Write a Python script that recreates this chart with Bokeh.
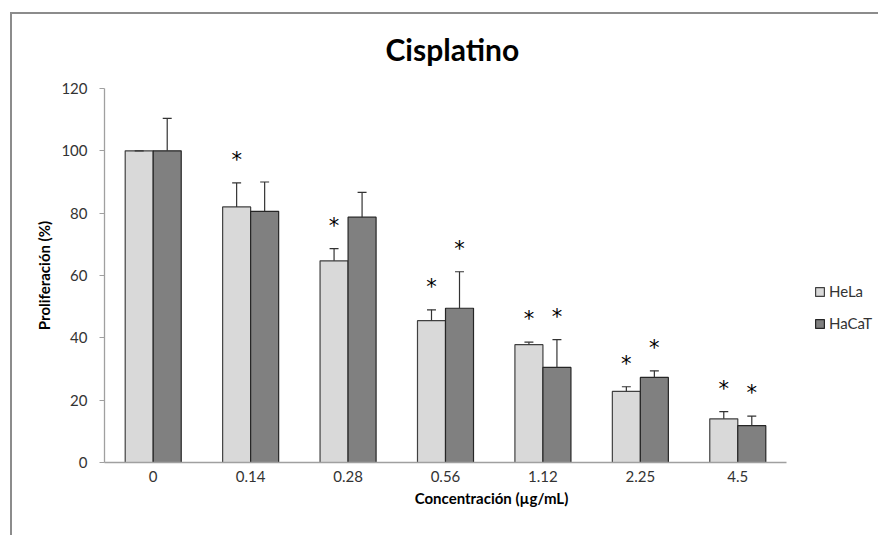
from bokeh.plotting import figure
from bokeh.models import ColumnDataSource, Range1d, Legend, LegendItem, FixedTicker
from bokeh.core.properties import value
from bokeh.embed import file_html
from bokeh.resources import INLINE

concentrations = ["0", "0.14", "0.28", "0.56", "1.12", "2.25", "4.5"]
hela_mean = [100, 82.0, 64.7, 45.5, 37.8, 22.8, 14.0]
hela_err = [0.0, 7.7, 3.9, 3.5, 0.8, 1.5, 2.3]
hacat_mean = [100, 80.6, 78.7, 49.5, 30.5, 27.3, 11.8]
hacat_err = [10.4, 9.4, 8.0, 11.7, 8.9, 2.1, 3.1]
hela_sig = ["", "*", "*", "*", "*", "*", "*"]
hacat_sig = ["", "", "", "*", "*", "*", "*"]
y_ticks = [0, 20, 40, 60, 80, 100, 120]

FONT = "Lato"
BW = 0.2875
OFF = BW / 2
CAP = 0.046
N = len(concentrations)

centers = [i + 0.5 for i in range(N)]
src = ColumnDataSource(dict(
    xc=centers,
    x_hela=[c - OFF for c in centers], x_hacat=[c + OFF for c in centers],
    hela=hela_mean, hela_top=[m + e for m, e in zip(hela_mean, hela_err)], hela_sig=hela_sig,
    hacat=hacat_mean, hacat_top=[m + e for m, e in zip(hacat_mean, hacat_err)], hacat_sig=hacat_sig,
))
for key in ("hela", "hacat"):
    src.data["x_%s_l" % key] = [x - CAP for x in src.data["x_" + key]]
    src.data["x_%s_r" % key] = [x + CAP for x in src.data["x_" + key]]

W, H = 882, 535
LEFT, TOP, FH = 104, 88, 374
FRAME_W = 878 - LEFT
p = figure(x_range=Range1d(0, N * FRAME_W / 682.0), y_range=Range1d(0, 120),
           width=W, height=H, output_backend="svg", toolbar_location=None,
           min_border_left=LEFT, min_border_right=0, min_border_top=TOP,
           min_border_bottom=H - TOP - FH,
           title="Cisplatino")
line = "linear-gradient(#8c8c8c, #8c8c8c)"
p.styles = {"background": f"{line} 10px 12px / 2px 100% no-repeat, {line} 10px 12px / 100% 2px no-repeat, #ffffff",
            "width": "878px", "overflow": "hidden"}
p.border_fill_color = None
p.background_fill_color = "white"

p.title.align = "left"
p.title.offset = 281
p.title.text_font = FONT
p.title.text_font_size = "30px"
p.title.text_font_style = "bold"
p.title.text_color = "#000000"
p.title.standoff = 44

p.outline_line_color = None
p.grid.visible = False

hela_bars = p.vbar(x="x_hela", top="hela", width=BW, bottom=0, source=src,
                   fill_color="#d9d9d9", line_color="#404040", line_width=1.2)
hacat_bars = p.vbar(x="x_hacat", top="hacat", width=BW, bottom=0, source=src,
                    fill_color="#808080", line_color="#262626", line_width=1.2)

for key in ("hela", "hacat"):
    p.segment(x0="x_" + key, x1="x_" + key, y0=key, y1=key + "_top", source=src,
              line_color="#333333", line_width=1.2)
    p.segment(x0="x_%s_l" % key, x1="x_%s_r" % key, y0=key + "_top", y1=key + "_top", source=src,
              line_color="#333333", line_width=1.2)
    p.text(x="x_" + key, y=key + "_top", text=key + "_sig", source=src,
           text_align="center", text_baseline="middle", y_offset=-23,
           text_font=value("DejaVu Sans"), text_font_size="21px", text_color="#000000")

p.yaxis.ticker = FixedTicker(ticks=y_ticks)
p.xaxis.ticker = FixedTicker(ticks=centers)
p.xaxis.major_label_overrides = {c: lab for c, lab in zip(centers, concentrations)}
p.xaxis.bounds = (0, N)

for ax in (p.xaxis[0], p.yaxis[0]):
    ax.axis_line_color = "#a0a0a0"
    ax.axis_line_width = 1.3
    ax.major_tick_line_color = "#a0a0a0"
    ax.minor_tick_line_color = None
    ax.major_label_text_font = FONT
    ax.major_label_text_font_size = "15px"
    ax.major_label_text_color = "#333333"
    ax.axis_label_text_font = FONT
    ax.axis_label_text_font_size = "15px"
    ax.axis_label_text_font_style = "bold"
    ax.axis_label_text_color = "#000000"

p.yaxis.axis_label = "Proliferación (%)"
p.yaxis.major_tick_out = 5
p.yaxis.major_tick_in = 0
p.yaxis.major_label_standoff = 12
p.yaxis.axis_label_standoff = 5

p.xaxis.axis_label = "Concentración (µg/mL)"
p.xaxis.major_tick_out = 0
p.xaxis.major_tick_in = 0
p.xaxis.major_label_standoff = 8
p.xaxis.axis_label_standoff = 4

legend = Legend(items=[LegendItem(label="HeLa", renderers=[hela_bars]),
                       LegendItem(label="HaCaT", renderers=[hacat_bars])],
                location=(710, 129), orientation="vertical")
legend.border_line_color = None
legend.background_fill_alpha = 0
legend.padding = 0
legend.margin = 0
legend.glyph_width = 11
legend.glyph_height = 11
legend.label_height = 20
legend.spacing = 12
legend.label_standoff = 4
legend.label_text_font = FONT
legend.label_text_font_size = "15px"
legend.label_text_color = "#333333"
p.add_layout(legend, "center")

open("out.html", "w").write(file_html(p, INLINE))
